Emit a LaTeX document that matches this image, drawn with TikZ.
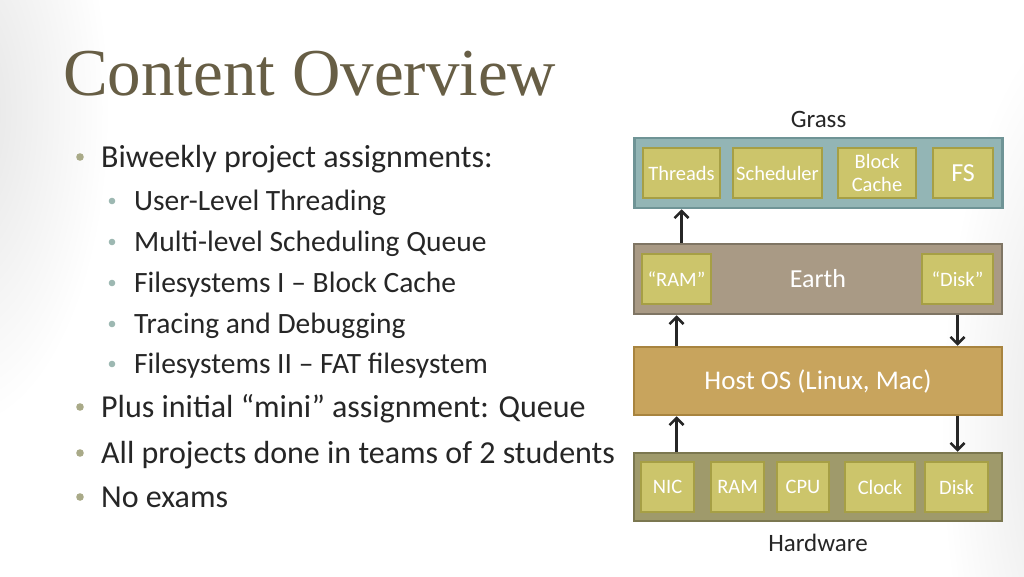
\documentclass[tikz,border=0pt]{standalone}
\usepackage{fontspec}
\usetikzlibrary{arrows.meta}
\setmainfont{Carlito}
\newfontfamily\titlefont{Liberation Serif}
\definecolor{titlecol}{HTML}{675E45}
\definecolor{textcol}{HTML}{262626}
\definecolor{bulletcol}{HTML}{A9AA88}
\definecolor{subbulletcol}{HTML}{9DB8B2}
\definecolor{grassfill}{HTML}{93B5B5}
\definecolor{grassline}{HTML}{6F9496}
\definecolor{earthfill}{HTML}{A99A85}
\definecolor{earthline}{HTML}{7F7564}
\definecolor{hostfill}{HTML}{C8A45D}
\definecolor{hostline}{HTML}{A8843F}
\definecolor{hwfill}{HTML}{9F9A6B}
\definecolor{hwline}{HTML}{7B7750}
\definecolor{partfill}{HTML}{CCC56B}
\definecolor{partline}{HTML}{A69F45}
\begin{document}
\begin{tikzpicture}[x=1pt,y=-1pt,
		layer/.style={draw,line width=2.5,minimum width=368,inner sep=0,text=white},
		part/.style={draw=partline,fill=partfill,line width=2,minimum height=50,inner sep=0,text=white,font=\fontsize{20.5}{23}\selectfont,align=center},
		item/.style={anchor=base west,inner sep=0,text=textcol,font=\fontsize{32}{32}\selectfont},
		subitem/.style={anchor=base west,inner sep=0,text=textcol,font=\fontsize{29.5}{30}\selectfont},
		caption/.style={text=textcol,font=\fontsize{25}{25}\selectfont},
		link/.style={-{Straight Barb[length=7,width=14]},line width=2.6,color=textcol}]
	\useasboundingbox[fill=white] (0,0) rectangle (1024,576);
	\shade[inner color=gray!22,outer color=white] (-40,110) ellipse (150 and 320);
	\shade[inner color=gray!22,outer color=white] (1090,430) ellipse (150 and 420);
	\node[anchor=base west,inner sep=0,text=titlecol] (title) at (63,95) {\titlefont\fontsize{67}{67}\selectfont Content Overview};
	% bullet list
	\foreach \y/\txt in {167/Biweekly project assignments:,417/Plus initial ``mini'' assignment: Queue,463/All projects done in teams of 2 students,507/No exams}{
		\fill[bulletcol] (80,\y-10) circle(3.8);
		\node[item] at (101,\y) {\txt};
	}
	\foreach \y/\txt in {210/User-Level Threading,251/Multi-level Scheduling Queue,292/Filesystems I -- Block Cache,333/Tracing and Debugging,373/Filesystems II -- FAT filesystem}{
		\fill[subbulletcol] (112,\y-9) circle(3.3);
		\node[subitem] at (134,\y) {\txt};
	}
	% layers
	\node[layer,draw=grassline,fill=grassfill,minimum height=70] (grass) at (818.5,173) {};
	\node[part,minimum width=77] (threads) at (681.5,173) {Threads};
	\node[part,minimum width=89] (sched) at (777.5,173) {Scheduler};
	\node[part,minimum width=78] (cache) at (877,173) {Block\\Cache};
	\node[part,minimum width=60,font=\fontsize{26}{26}\selectfont] (fs) at (963,173) {FS};
	\node[caption] (grasslbl) at (818.5,119) {Grass};

	\node[layer,draw=earthline,fill=earthfill,minimum height=70,font=\fontsize{26}{26}\selectfont] (earth) at (818,279) {Earth};
	\node[part,minimum width=69] (vram) at (676.5,279) {``RAM''};
	\node[part,minimum width=71] (vdisk) at (957.5,279) {``Disk''};

	\node[layer,draw=hostline,fill=hostfill,minimum height=68,font=\fontsize{27}{27}\selectfont] (host) at (818,381) {Host OS (Linux, Mac)};

	\node[layer,draw=hwline,fill=hwfill,minimum height=68] (hw) at (818,487) {};
	\node[part,minimum width=53] (nic) at (667.5,487) {NIC};
	\node[part,minimum width=53] (ram) at (737.5,487) {RAM};
	\node[part,minimum width=52] (cpu) at (803,487) {CPU};
	\node[part,minimum width=70] (clock) at (880,487) {Clock};
	\node[part,minimum width=63] (disk) at (956.5,487) {Disk};
	\node[caption] (hwlbl) at (818,543) {Hardware};
	% arrows
	\draw[link] (threads |- earth.north) -- (threads |- grass.south);
	\draw[link] (vram |- host.north) -- (vram |- earth.south);
	\draw[link] (vdisk |- earth.south) -- (vdisk |- host.north);
	\draw[link] (vram |- hw.north) -- (vram |- host.south);
	\draw[link] (vdisk |- host.south) -- (vdisk |- hw.north);
\end{tikzpicture}
\end{document}
